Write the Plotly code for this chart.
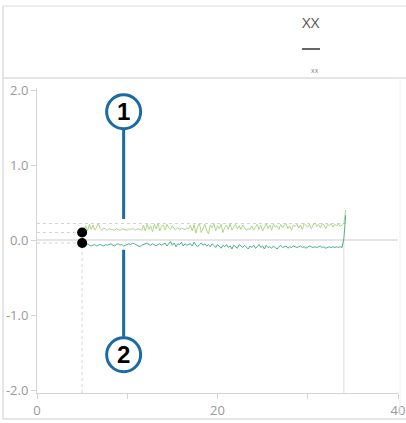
import plotly.graph_objects as go

W, H = 406, 423

# ---- data ----
x_start = 5.0
x_step = 0.2
series_a = [
    0.10, 0.13, 0.19, 0.12, 0.21, 0.14, 0.20, 0.13, 0.17, 0.22,
    0.15, 0.13, 0.16, 0.14, 0.13, 0.15, 0.14, 0.14, 0.13, 0.15,
    0.14, 0.13, 0.15, 0.14, 0.14, 0.13, 0.15, 0.14, 0.16, 0.13,
    0.14, 0.15, 0.14, 0.13, 0.20, 0.12, 0.21, 0.14, 0.19, 0.11,
    0.21, 0.15, 0.22, 0.12, 0.18, 0.20, 0.13, 0.21, 0.16, 0.14,
    0.19, 0.15, 0.14, 0.17, 0.13, 0.16, 0.15, 0.14, 0.16, 0.15,
    0.20, 0.12, 0.21, 0.09, 0.18, 0.22, 0.10, 0.17, 0.21, 0.13,
    0.08, 0.20, 0.16, 0.22, 0.12, 0.19, 0.15, 0.21, 0.10, 0.17,
    0.20, 0.14, 0.22, 0.13, 0.18, 0.21, 0.15, 0.19, 0.14, 0.20,
    0.16, 0.13, 0.15, 0.14, 0.19, 0.13, 0.17, 0.21, 0.14, 0.20,
    0.12, 0.18, 0.22, 0.15, 0.20, 0.13, 0.21, 0.17, 0.19, 0.14,
    0.21, 0.16, 0.20, 0.22, 0.15, 0.19, 0.13, 0.20, 0.18, 0.21,
    0.16, 0.20, 0.14, 0.22, 0.19, 0.17, 0.21, 0.15, 0.20, 0.23,
    0.18, 0.21, 0.16, 0.22, 0.20, 0.15, 0.21, 0.19, 0.22, 0.17,
    0.21, 0.19, 0.22, 0.18, 0.20, 0.22, 0.40,
]
series_b = [
    -0.04, -0.10, -0.08, -0.05, -0.07, -0.08, -0.07, -0.06, -0.08, -0.07,
    -0.06, -0.07, -0.08, -0.06, -0.07, -0.06, -0.05, -0.07, -0.08, -0.06,
    -0.05, -0.07, -0.06, -0.08, -0.07, -0.06, -0.05, -0.06, -0.04, -0.05,
    -0.06, -0.07, -0.09, -0.07, -0.06, -0.05, -0.04, -0.06, -0.07, -0.05,
    -0.06, -0.08, -0.06, -0.05, -0.07, -0.06, -0.04, -0.08, -0.05, -0.02,
    -0.07, -0.04, -0.09, -0.05, -0.06, -0.03, -0.08, -0.05, -0.07, -0.06,
    -0.05, -0.08, -0.03, -0.07, -0.09, -0.06, -0.04, -0.07, -0.05, -0.08,
    -0.06, -0.09, -0.05, -0.07, -0.10, -0.06, -0.08, -0.11, -0.07, -0.09,
    -0.06, -0.10, -0.08, -0.12, -0.07, -0.09, -0.11, -0.06, -0.08, -0.10,
    -0.07, -0.09, -0.12, -0.08, -0.10, -0.07, -0.11, -0.09, -0.06, -0.10,
    -0.08, -0.12, -0.07, -0.10, -0.09, -0.11, -0.08, -0.10, -0.12, -0.09,
    -0.07, -0.10, -0.09, -0.08, -0.11, -0.09, -0.10, -0.08, -0.09, -0.10,
    -0.09, -0.08, -0.10, -0.09, -0.11, -0.10, -0.08, -0.09, -0.10, -0.09,
    -0.10, -0.09, -0.08, -0.10, -0.09, -0.11, -0.10, -0.09, -0.10, -0.09,
    -0.10, -0.09, -0.10, -0.09, -0.10, 0.02, 0.33,
]
ref_level = 0.22
callouts = ["1", "2"]
callout_x = 9.6
callout_y = [1.71, -1.53]
callout_tip = [0.28, -0.13]
y_ticks = [2.0, 1.0, 0.0, -1.0, -2.0]
y_labels = ["2.0", "1.0", "0.0", "-1.0", "-2.0"]
x_ticks = [0, 10, 20, 30, 40]
x_labels = ["0", "", "20", "", "40"]
legend_title = "XX"
legend_sub = "xx"

xs = [x_start + x_step * i for i in range(len(series_a))]
x_end = xs[-1]
y_min, y_max = -2.04, 2.027

fig = go.Figure()

DOT = "#d4d4d4"

# reference dotted lines
fig.add_trace(go.Scatter(x=[0, x_end], y=[ref_level, ref_level], mode="lines",
                         line=dict(color=DOT, width=1, dash="dot"), hoverinfo="skip"))
fig.add_trace(go.Scatter(x=[0, xs[0]], y=[series_a[0], series_a[0]], mode="lines",
                         line=dict(color=DOT, width=1, dash="dot"), hoverinfo="skip"))
fig.add_trace(go.Scatter(x=[0, xs[0]], y=[series_b[0], series_b[0]], mode="lines",
                         line=dict(color=DOT, width=1, dash="dot"), hoverinfo="skip"))
fig.add_trace(go.Scatter(x=[xs[0], xs[0]], y=[y_min, series_b[0]], mode="lines",
                         line=dict(color=DOT, width=1, dash="dot"), hoverinfo="skip"))
fig.add_trace(go.Scatter(x=[xs[-2], xs[-2]], y=[y_min, series_b[-2]], mode="lines",
                         line=dict(color="#dcdcdc", width=1), hoverinfo="skip"))
# zero line
fig.add_trace(go.Scatter(x=[0, 40], y=[0, 0], mode="lines",
                         line=dict(color="#cccccc", width=1), hoverinfo="skip"))

# series
fig.add_trace(go.Scatter(x=xs, y=series_a, mode="lines",
                         line=dict(color="#afd78c", width=1), name="a"))
fig.add_trace(go.Scatter(x=xs, y=series_b, mode="lines",
                         line=dict(color="#4fae85", width=1), name="b"))

# start dots
fig.add_trace(go.Scatter(x=[xs[0], xs[0]], y=[series_a[0], series_b[0]], mode="markers",
                         marker=dict(color="black", size=10), hoverinfo="skip"))

BLUE = "#1a6aa6"
# callout stems
fig.add_trace(go.Scatter(x=[callout_x, callout_x], y=[callout_y[0] - 0.24, callout_tip[0]],
                         mode="lines", line=dict(color=BLUE, width=3), hoverinfo="skip"))
fig.add_trace(go.Scatter(x=[callout_x, callout_x], y=[callout_y[1] + 0.24, callout_tip[1]],
                         mode="lines", line=dict(color=BLUE, width=3), hoverinfo="skip"))

shapes = []
for cy in callout_y:
    shapes.append(dict(type="circle", xref="x", yref="y", xsizemode="pixel", ysizemode="pixel",
                       xanchor=callout_x, yanchor=cy, x0=-17, x1=17, y0=-17, y1=17,
                       line=dict(color=BLUE, width=3), fillcolor="white", layer="above"))

annotations = []
for lab, cy in zip(callouts, callout_y):
    annotations.append(dict(x=callout_x, y=cy, xref="x", yref="y", text="<b>%s</b>" % lab,
                            showarrow=False, font=dict(size=24, color="black", family="Liberation Sans")))

# frame boxes (paper coords in pixels)
def px(x):
    return x / W

def py(y):
    return 1 - y / H

BOX = "#dcdcdc"
shapes += [
    dict(type="line", xref="paper", yref="paper", x0=px(3), x1=1.0, y0=py(6), y1=py(6),
         line=dict(color="#e6e6e6", width=1.5)),
    dict(type="line", xref="paper", yref="paper", x0=px(3), x1=px(3), y0=py(6), y1=py(419),
         line=dict(color=BOX, width=1.5)),
    dict(type="line", xref="paper", yref="paper", x0=px(3), x1=1.0, y0=py(78), y1=py(78),
         line=dict(color=BOX, width=1.5)),
    dict(type="line", xref="paper", yref="paper", x0=px(3), x1=1.0, y0=py(419), y1=py(419),
         line=dict(color=BOX, width=1.5)),
    dict(type="line", xref="paper", yref="paper", x0=px(400), x1=px(400), y0=py(78), y1=py(419),
         line=dict(color="#f0f0f0", width=1)),
    # legend line
    dict(type="line", xref="paper", yref="paper", x0=px(302), x1=px(320), y0=py(49), y1=py(49),
         line=dict(color="#666666", width=2)),
]
annotations += [
    dict(x=px(311), y=py(22), xref="paper", yref="paper", text=legend_title, showarrow=False,
         xanchor="center", yanchor="middle",
         font=dict(size=15, color="#555555", family="Open Sans")),
    dict(x=px(315), y=py(70), xref="paper", yref="paper", text=legend_sub, showarrow=False,
         xanchor="center", yanchor="middle",
         font=dict(size=7, color="#888888", family="Open Sans")),
]

fig.update_layout(
    width=W, height=H,
    margin=dict(l=0, r=0, t=0, b=0, autoexpand=False),
    paper_bgcolor="white", plot_bgcolor="white",
    showlegend=False,
    shapes=shapes,
    annotations=annotations,
    font=dict(family="Open Sans", color="#999999", size=13),
    xaxis=dict(domain=[px(37), px(398)], range=[0, 40], showgrid=False, zeroline=False,
               automargin=False,
               showline=True, linecolor="#d4d4d4", linewidth=1,
               ticks="outside", ticklen=5, tickcolor="#d4d4d4",
               tickvals=x_ticks, ticktext=x_labels, anchor="y",
               tickfont=dict(size=13, color="#999999")),
    yaxis=dict(domain=[py(393), py(88)], range=[y_min, y_max], showgrid=False, zeroline=False,
               automargin=False,
               showline=True, linecolor="#d4d4d4", linewidth=1,
               ticks="outside", ticklen=5, tickcolor="#d4d4d4",
               tickvals=y_ticks, ticktext=y_labels, anchor="x",
               tickfont=dict(size=13, color="#999999")),
)

fig.write_html("out.html", config={"displayModeBar": False},
               post_script="document.documentElement.style.margin='0';document.body.style.margin='0px';"
                           "document.documentElement.style.overflow='hidden';document.body.style.overflow='hidden';")
